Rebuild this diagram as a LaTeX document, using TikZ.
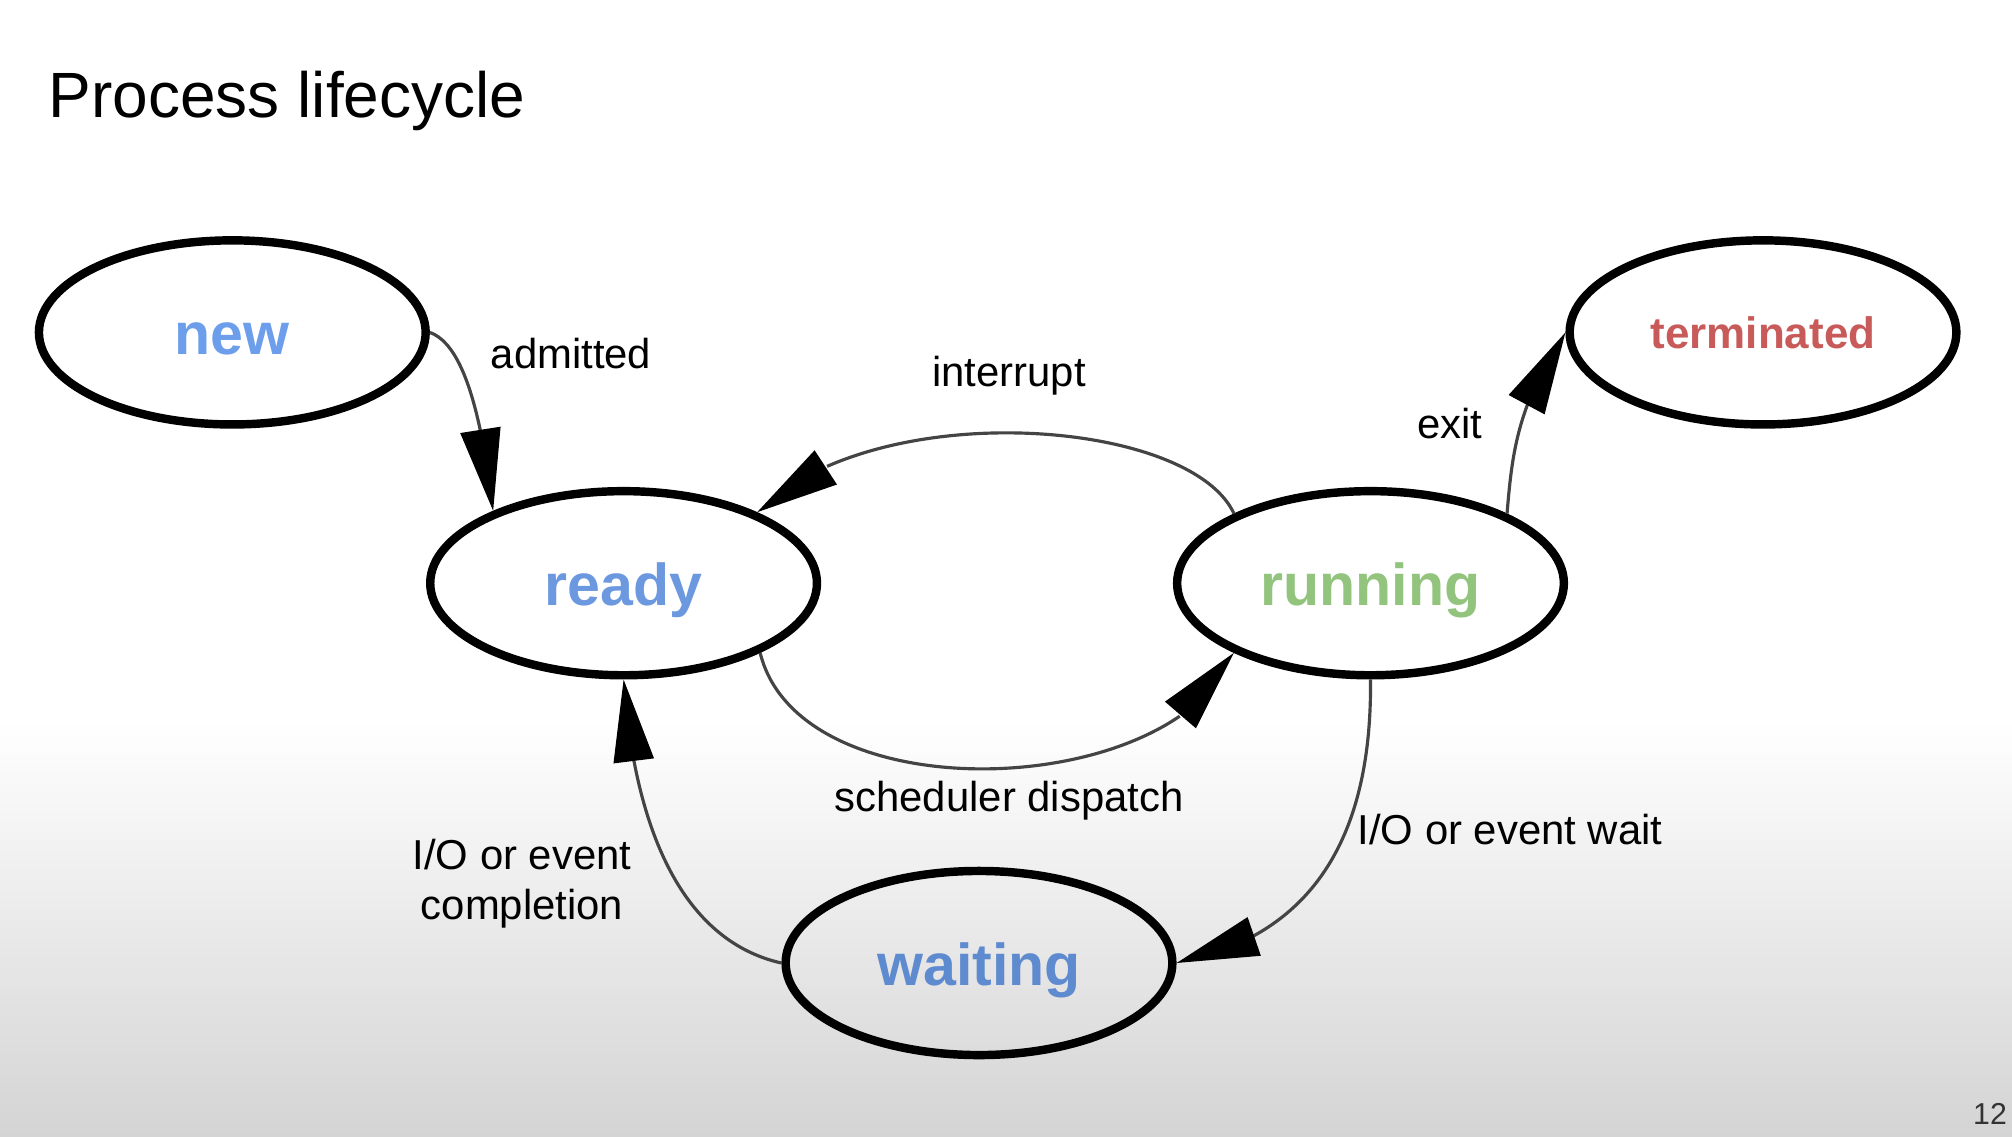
\documentclass[tikz,border=0pt]{standalone}
\usepackage{fontspec}
\setmainfont{Liberation Sans}
\usetikzlibrary{arrows.meta,bending,shapes.geometric}
\definecolor{newblue}{HTML}{6D9EEB}
\definecolor{readyblue}{HTML}{6C98E0}
\definecolor{waitblue}{HTML}{5E8ACF}
\definecolor{rungreen}{HTML}{93C47D}
\definecolor{termred}{HTML}{C85A5A}
\definecolor{edgegray}{HTML}{444444}
\definecolor{bgbottom}{HTML}{D4D4D4}
\begin{document}
\begin{tikzpicture}[x=0.01cm,y=-0.01cm,
  state/.style={ellipse, draw=black, line width=2.4pt, minimum width=3.865cm,
    minimum height=1.84cm, inner sep=0pt, text height=0.45cm, text depth=0cm,
    font=\fontsize{16.8}{20}\selectfont\bfseries},
  trans/.style={draw=edgegray, line width=0.9pt,
    -{Triangle[length=0.82cm,width=0.40cm,color=black,flex]}},
  lbl/.style={font=\fontsize{11.9}{14.2}\selectfont, inner sep=0pt, anchor=base, align=center}]
\useasboundingbox (0,0) rectangle (2012,1136);
\fill[white] (0,0) rectangle (2012,721);
\shade[top color=white, bottom color=bgbottom] (0,720) rectangle (2012,1136);

\node[anchor=base west, inner sep=0pt, font=\fontsize{18.2}{22}\selectfont] (title) at (48,117) {Process lifecycle};

\node[state, text=newblue] (new) at (232.3,332.4) {new};
\node[state, text=readyblue] (ready) at (623.6,583.2) {ready};
\node[state, text=rungreen] (running) at (1370.5,583.2) {running};
\node[state, text=termred, text height=0.32cm, font=\fontsize{12.5}{15}\selectfont\bfseries] (term) at (1763,332.4) {terminated};
\node[state, text=waitblue] (waiting) at (979,963) {waiting};

% transitions
\draw[trans] (new.east) .. controls (465,345) and (482,420) .. (ready.151);
\draw[trans] (running.153) .. controls (1190,418) and (875,395) .. (ready.28);
\draw[trans] (ready.333) .. controls (800,815) and (1175,800) .. (running.207);
\draw[trans] (running.27) .. controls (1512,453) and (1517.4,404.6) .. (term.180);
\draw[trans] (running.south) .. controls (1372,830) and (1318,935) .. (waiting.east);
\draw[trans] (waiting.west) .. controls (692.7,943) and (636,849.5) .. (ready.south);

% labels
\node[lbl] (ladm) at (571,368) {admitted};
\node[lbl] (lint) at (1009,386) {interrupt};
\node[lbl] (lexit) at (1450,438) {exit};
\node[lbl] (lsched) at (1009,811) {scheduler dispatch};
\node[lbl] (lwait) at (1510,844) {I/O or event wait};
\node[lbl, anchor=center] (lcomp) at (522,884) {I/O or event\\completion};

\node[anchor=base, inner sep=0pt, font=\fontsize{8.6}{10}\selectfont, text=black!80] (page) at (1990,1124) {12};
\end{tikzpicture}
\end{document}
